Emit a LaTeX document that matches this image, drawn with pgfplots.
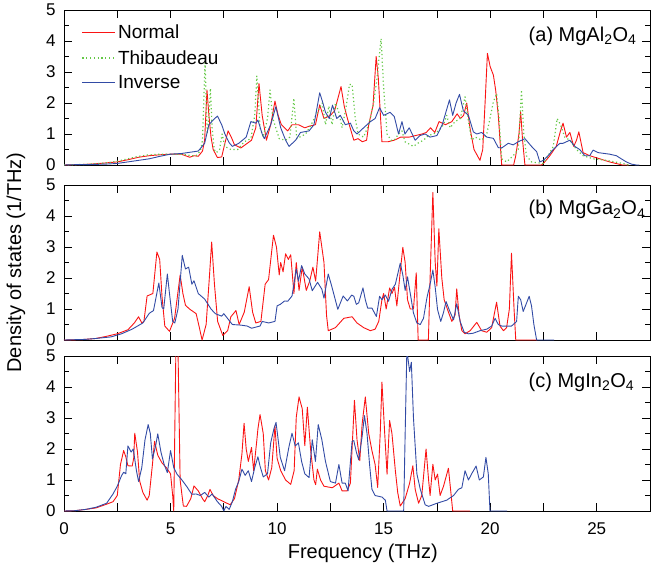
\documentclass[border=0pt]{standalone}
\usepackage{pgfplots}
\pgfplotsset{compat=1.18}
\usepackage{fontspec}
\setmainfont{Liberation Sans}
\definecolor{nred}{RGB}{250,20,20}
\definecolor{iblue}{RGB}{50,75,165}
\definecolor{tgreen}{RGB}{100,200,70}
\pgfplotsset{
 panel/.style={
  scale only axis, width=586pt, height=155pt,
  xmin=0, xmax=27.5, ymin=0, ymax=5,
  xtick={0,5,...,25},
  extra x ticks={2.5,7.5,...,27.5}, extra x tick labels={},
  ytick={0,...,5}, minor ytick={0.5,1.5,...,4.5},
  tick align=inside,
  major tick length=8pt, minor tick length=5pt,
  tick style={black, line width=0.8pt},
  axis line style={line width=0.9pt},
  tick label style={font=\fontsize{17}{19}\selectfont},
  /pgf/number format/assume math mode=true,
  yticklabel style={xshift=-5pt},
  xticklabel style={yshift=-8pt},
 },
 nstyle/.style={color=nred, line width=0.9pt, line join=round},
 tstyle/.style={color=tgreen, line width=1.2pt, dash pattern=on 1.2pt off 2.6pt, line join=round},
 istyle/.style={color=iblue, line width=0.9pt, line join=round},
}
\tikzset{nlab/.style={anchor=west, font=\fontsize{20}{24}\selectfont}}
\begin{document}
\begin{tikzpicture}
\useasboundingbox (-64pt,10pt) rectangle (596pt,-561pt);
% ---------------- (a)
\begin{axis}[panel, at={(0pt,0pt)}, anchor=north west, xticklabels={},
  legend style={draw=none, fill=none, at={(rel axis cs:0.025,0.93)}, anchor=north west,
    font=\fontsize{19}{22}\selectfont, row sep=6pt, cells={anchor=west}},
  legend image code/.code={\draw[#1, line width=1.2pt] (0pt,0pt) -- (33pt,0pt);}]
\addlegendimage{nstyle}
\addlegendentry{Normal}
\addlegendimage{tstyle}
\addlegendentry{Thibaudeau}
\addlegendimage{istyle}
\addlegendentry{Inverse}
\addplot[nstyle, forget plot] coordinates {(0,0) (0.5,0.01) (1,0.02) (1.5,0.04) (2,0.07) (2.5,0.1) (3,0.17) (3.5,0.25) (4,0.3) (4.5,0.33) (5,0.35) (5.5,0.35) (5.9,0.25) (6.1,0.3) (6.3,0.28) (6.5,0.45) (6.6,0.8) (6.71,2.42) (6.8,1.6) (6.9,0.9) (7.0,0.5) (7.2,0.24) (7.4,0.26) (7.55,0.7) (7.7,1.1) (7.85,0.9) (8.0,0.65) (8.3,0.55) (8.6,0.7) (8.8,0.8) (9.0,1.2) (9.15,2.63) (9.3,1.6) (9.5,0.8) (9.7,1.3) (9.9,2.06) (10.05,1.6) (10.2,1.3) (10.5,1.1) (10.7,1.3) (11,1.3) (11.3,1.2) (11.5,1.25) (11.8,1.3) (12.0,1.94) (12.2,1.5) (12.5,1.6) (12.7,1.75) (13.0,2.53) (13.15,1.9) (13.3,1.5) (13.6,0.8) (13.8,0.85) (14.0,0.75) (14.2,0.8) (14.3,1.3) (14.5,1.9) (14.65,3.5) (14.75,2.8) (14.92,0.75) (15.2,0.75) (15.5,0.8) (15.8,0.9) (16.2,0.9) (16.5,0.95) (16.8,1.0) (17.0,1.05) (17.2,1.2) (17.4,1.05) (17.6,1.4) (17.9,1.3) (18.2,1.4) (18.45,1.65) (18.6,1.5) (18.75,1.6) (18.9,2.0) (19.05,1.2) (19.24,0.5) (19.52,0.15) (19.65,0.5) (19.76,2.0) (19.87,3.6) (20.0,3.17) (20.15,2.9) (20.26,2.4) (20.38,1.6) (20.54,0) (21.1,0) (21.2,0.3) (21.35,1.0) (21.43,1.72) (21.52,0.8) (21.63,0) (22.4,0) (22.5,0.05) (22.8,0.3) (23.1,0.6) (23.3,1.1) (23.42,1.35) (23.58,0.9) (23.74,1.05) (23.92,0.6) (24.05,0.8) (24.16,1.07) (24.36,0.4) (24.67,0.3) (25.14,0.2) (25.6,0.1) (26.2,0) (26.5,0)};
\addplot[tstyle, forget plot] coordinates {(0,0) (0.5,0.01) (1,0.02) (1.5,0.04) (2,0.07) (2.5,0.12) (3,0.2) (3.5,0.28) (4,0.33) (4.5,0.35) (5,0.35) (5.5,0.35) (6,0.3) (6.2,0.3) (6.4,0.45) (6.5,0.8) (6.62,3.3) (6.72,1.0) (6.8,1.5) (6.87,2.47) (6.95,1.2) (7.05,0.5) (7.15,0.4) (7.3,0.5) (7.42,1.0) (7.55,0.6) (7.83,0.5) (8.15,0.5) (8.46,0.75) (8.77,0.85) (8.95,1.6) (9.05,2.87) (9.2,1.2) (9.35,0.9) (9.55,1.5) (9.67,2.42) (9.8,1.5) (10.1,0.85) (10.4,0.8) (10.6,0.9) (10.79,2.15) (10.92,0.85) (11.34,1.0) (11.6,1.3) (11.89,1.7) (12.12,2.0) (12.27,1.3) (12.43,1.9) (12.58,1.3) (12.74,2.0) (12.9,1.7) (13.05,1.2) (13.22,1.8) (13.4,2.6) (13.52,2.6) (13.67,1.5) (13.8,1.0) (14.06,0.9) (14.3,1.3) (14.53,2.0) (14.69,2.8) (14.88,4.08) (15.0,2.5) (15.16,1.0) (15.35,0.8) (15.5,0.8) (15.7,1.0) (15.86,1.1) (16.0,0.75) (16.4,0.6) (16.6,0.7) (16.87,0.8) (17.1,0.95) (17.34,1.0) (17.57,1.1) (17.81,1.3) (17.96,1.6) (18.12,1.2) (18.35,1.4) (18.6,1.5) (18.82,2.2) (18.98,1.4) (19.13,0.8) (19.3,0.9) (19.6,0.8) (19.84,1.0) (20.15,2.04) (20.3,2.3) (20.42,1.5) (20.54,0.2) (20.77,0.1) (21.08,0.3) (21.32,0.5) (21.47,2.42) (21.58,1.0) (21.7,0.3) (21.94,0.1) (22.49,0.05) (22.72,0.3) (22.96,0.6) (23.14,1.5) (23.3,1.3) (23.5,0.9) (23.74,0.8) (24.05,0.5) (24.36,0.3) (24.83,0.2) (25.45,0.15) (26.23,0.05) (26.5,0)};
\addplot[istyle, forget plot] coordinates {(0,0) (0.5,0.01) (1,0.01) (1.5,0.02) (2,0.03) (2.5,0.05) (3,0.1) (3.5,0.15) (4,0.2) (4.5,0.28) (5,0.35) (5.5,0.37) (6,0.42) (6.3,0.45) (6.6,0.7) (6.8,1.3) (7.0,1.45) (7.2,1.58) (7.4,1.3) (7.55,1.0) (7.75,0.72) (7.9,0.6) (8.2,0.7) (8.55,0.9) (8.77,1.4) (9.0,1.35) (9.1,1.45) (9.3,1.0) (9.4,0.85) (9.7,1.3) (9.94,1.88) (10.17,1.2) (10.4,0.8) (10.56,0.6) (10.87,0.8) (11.1,1.05) (11.5,1.1) (11.73,1.3) (12.0,2.33) (12.15,2.0) (12.27,1.7) (12.45,1.5) (12.6,1.93) (12.8,1.5) (12.97,1.6) (13.2,1.3) (13.44,1.35) (13.6,1.1) (13.75,1.0) (14.06,1.2) (14.38,1.4) (14.6,1.5) (14.81,1.85) (15.0,1.6) (15.3,1.7) (15.5,1.56) (15.7,1.0) (15.86,1.4) (16.0,1.0) (16.2,1.2) (16.48,0.8) (16.7,0.95) (16.95,1.0) (17.18,0.9) (17.5,0.95) (17.75,1.3) (18.09,2.1) (18.24,1.6) (18.4,2.0) (18.56,2.28) (18.74,1.75) (18.98,1.6) (19.21,1.07) (19.37,1.0) (19.6,1.05) (19.84,0.9) (20.15,0.86) (20.38,0.56) (20.54,0.55) (20.85,0.7) (21.08,0.65) (21.32,0.75) (21.63,0.85) (21.94,0.6) (22.18,0.43) (22.33,0.1) (22.49,0.15) (22.72,0.3) (22.96,0.5) (23.27,0.7) (23.42,0.7) (23.74,0.8) (23.97,0.6) (24.2,0.5) (24.44,0.3) (24.67,0.3) (24.83,0.48) (25.06,0.4) (25.6,0.35) (25.92,0.3) (26.15,0.2) (26.39,0.1) (26.62,0.03) (26.86,0) (27.0,0)};
\node[nlab] at (rel axis cs:0.787,0.83) {(a) MgAl\textsubscript{2}O\textsubscript{4}};
\end{axis}
% ---------------- (b)
\begin{axis}[panel, at={(0pt,-175pt)}, anchor=north west, xticklabels={},
  ylabel={Density of states (1/THz)},
  every axis y label/.style={at={(axis description cs:-0.082,0.5)}, rotate=90, anchor=center, font=\fontsize{20}{24}\selectfont}]
\addplot[nstyle] coordinates {(0,0) (0.8,0.01) (1.5,0.05) (2,0.12) (2.5,0.2) (3,0.33) (3.3,0.55) (3.5,0.75) (3.65,0.55) (3.75,0.6) (3.9,1.42) (4.17,1.5) (4.36,2.84) (4.49,2.6) (4.6,1.4) (4.73,0.45) (4.95,0.28) (5.19,0.7) (5.34,1.5) (5.45,2.1) (5.58,1.5) (5.7,1.12) (5.89,1.0) (6.2,0.85) (6.32,0.5) (6.48,0) (6.67,0.5) (6.82,2.0) (6.93,3.16) (7.06,1.8) (7.21,0.6) (7.45,0.15) (7.68,0.3) (7.83,0.75) (8.07,0.95) (8.22,0.5) (8.46,0.9) (8.69,1.72) (8.85,0.9) (9.0,0.55) (9.24,0.6) (9.44,1.8) (9.6,1.95) (9.83,3.38) (9.97,3.0) (10.1,2.1) (10.17,2.5) (10.28,2.2) (10.4,2.78) (10.53,2.6) (10.64,2.75) (10.79,1.5) (10.9,2.5) (11.03,1.6) (11.18,2.35) (11.37,1.6) (11.53,1.9) (11.68,2.35) (11.81,1.9) (12.0,3.49) (12.2,2.5) (12.32,0.8) (12.4,0.3) (12.74,0.4) (13.13,0.7) (13.52,0.75) (13.75,0.55) (14.06,0.4) (14.38,0.3) (14.6,0.35) (14.77,0.6) (14.92,1.3) (15.0,1.5) (15.12,1.0) (15.28,1.68) (15.39,1.5) (15.51,1.7) (15.62,1.1) (15.78,2.2) (15.9,2.99) (16.01,2.5) (16.12,1.3) (16.25,1.0) (16.4,1.0) (16.53,2.17) (16.62,0) (17.1,0) (17.18,2.0) (17.31,4.76) (17.42,2.5) (17.5,1.74) (17.59,3.59) (17.73,2.0) (17.84,1.3) (18.04,0.9) (18.2,0.6) (18.35,0.8) (18.43,1.65) (18.54,0.8) (18.67,0.3) (18.82,0.2) (19.06,0.3) (19.37,0.57) (19.6,0.3) (19.84,0.25) (20.07,0.4) (20.3,1.22) (20.46,0.45) (20.62,0.3) (20.77,0.4) (20.9,1.0) (21.0,2.8) (21.12,1.0) (21.2,0) (22.2,0)};
\addplot[istyle] coordinates {(0,0) (0.5,0.01) (1,0.02) (1.5,0.05) (2.2,0.1) (2.7,0.2) (3.2,0.35) (3.7,0.55) (4.0,0.86) (4.2,0.95) (4.45,1.84) (4.6,1.05) (4.68,1.0) (4.85,2.13) (4.95,1.5) (5.1,0.6) (5.2,0.55) (5.35,1.0) (5.55,2.73) (5.7,2.29) (5.85,2.35) (6.0,1.8) (6.1,1.91) (6.3,1.5) (6.6,1.32) (6.9,1.0) (7.1,0.85) (7.4,0.77) (7.5,0.85) (7.9,0.5) (8.3,0.48) (8.6,0.45) (8.8,0.38) (9.2,0.45) (9.3,0.6) (9.6,0.55) (9.9,0.6) (10.0,1.1) (10.15,1.15) (10.35,1.26) (10.5,1.25) (10.7,1.42) (10.9,2.29) (11.0,1.9) (11.15,2.4) (11.3,2.13) (11.5,1.97) (11.65,1.59) (11.9,1.86) (12.1,1.64) (12.2,1.35) (12.4,2.13) (12.55,1.77) (12.85,0.99) (13.1,1.42) (13.3,1.26) (13.5,1.45) (13.6,1.41) (13.72,1.15) (13.83,1.2) (14.03,1.68) (14.14,1.3) (14.25,1.03) (14.45,1.03) (14.66,0.76) (14.81,1.41) (14.92,1.3) (15.08,1.45) (15.23,1.25) (15.39,1.63) (15.55,1.8) (15.78,2.48) (15.9,2.1) (16.01,1.6) (16.12,2.04) (16.25,1.5) (16.4,0.87) (16.56,0.55) (16.72,0.5) (16.87,0.7) (17.03,1.36) (17.18,1.8) (17.31,2.26) (17.42,1.7) (17.53,0.98) (17.68,0.6) (17.81,0.89) (17.93,1.24) (18.09,0.95) (18.28,0.65) (18.43,1.17) (18.59,0.6) (18.78,0.25) (18.98,0.2) (19.21,0.22) (19.52,0.3) (19.84,0.35) (20.07,0.45) (20.23,0.7) (20.38,0.5) (20.54,0.45) (20.74,0.45) (21.0,0.45) (21.24,0.6) (21.32,1.41) (21.43,1.3) (21.55,0.92) (21.71,1.2) (21.83,1.41) (21.94,1.1) (22.05,0.5) (22.18,0) (23.0,0)};
\node[nlab] at (rel axis cs:0.787,0.84) {(b) MgGa\textsubscript{2}O\textsubscript{4}};
\end{axis}
% ---------------- (c)
\begin{axis}[panel, at={(0pt,-346pt)}, anchor=north west,
  xlabel={Frequency (THz)},
  every axis x label/.style={at={(axis description cs:0.51,-0.27)}, anchor=center, font=\fontsize{20}{24}\selectfont}]
\addplot[nstyle] coordinates {(0,0) (0.5,0.01) (1,0.05) (1.5,0.1) (2,0.22) (2.3,0.3) (2.5,0.5) (2.65,1.5) (2.8,1.95) (2.9,1.75) (3.0,1.46) (3.2,1.45) (3.27,1.7) (3.32,2.51) (3.45,1.9) (3.55,0.97) (3.7,0.6) (3.9,0.35) (4.0,0.5) (4.15,1.5) (4.25,2.25) (4.4,1.8) (4.6,1.55) (4.8,1.4) (5.0,1.2) (5.1,0.5) (5.15,0) (5.25,5.2) (5.35,5.2) (5.45,1.0) (5.6,0.16) (5.75,0.15) (5.95,0.4) (6.1,0.81) (6.3,0.65) (6.5,0.4) (6.6,0.3) (6.75,0.5) (6.85,0.7) (7.0,0.5) (7.2,0.4) (7.5,0.3) (7.8,0.2) (8.0,0.4) (8.2,1.0) (8.35,1.84) (8.45,2.83) (8.55,2.0) (8.65,1.6) (8.8,2.05) (8.9,1.3) (9.05,2.29) (9.1,2.65) (9.2,3.11) (9.35,2.5) (9.45,1.3) (9.6,1.0) (9.75,1.4) (9.9,2.75) (10.0,1.7) (10.17,1.3) (10.4,1.0) (10.64,0.86) (10.8,1.3) (10.9,3.03) (11.03,3.68) (11.18,3.3) (11.3,2.11) (11.42,3.35) (11.57,2.0) (11.73,1.0) (11.81,0.85) (11.89,1.35) (12.04,1.0) (12.2,0.8) (12.59,0.75) (12.9,0.9) (13.05,0.65) (13.29,0.65) (13.44,0.9) (13.63,3.57) (13.75,2.3) (13.88,1.62) (13.99,2.8) (14.14,3.68) (14.3,2.5) (14.45,1.95) (14.6,1.5) (14.72,0.76) (14.84,2.5) (14.92,4.16) (15.05,2.5) (15.16,1.19) (15.28,2.92) (15.39,2.5) (15.55,1.3) (15.66,0.6) (15.78,0.16) (16.01,0.4) (16.22,0.9) (16.37,1.46) (16.48,0.7) (16.64,0.25) (16.79,0.5) (16.99,2.0) (17.11,1.0) (17.18,0.5) (17.31,1.51) (17.42,1.0) (17.53,1.19) (17.65,0.5) (17.81,0.8) (18.04,1.38) (18.17,0.5) (18.24,0) (19.06,0)};
\addplot[istyle] coordinates {(0,0) (0.5,0.01) (1,0.05) (1.5,0.12) (2,0.25) (2.3,0.55) (2.5,0.8) (2.7,1.14) (2.8,1.25) (2.9,1.2) (3.0,2.1) (3.15,1.9) (3.25,2.0) (3.4,1.3) (3.5,0.95) (3.65,1.4) (3.8,2.29) (3.95,2.79) (4.05,2.5) (4.15,1.68) (4.3,2.1) (4.4,2.49) (4.55,1.9) (4.7,1.5) (4.85,1.24) (5.0,1.95) (5.15,1.4) (5.3,1.19) (5.5,1.03) (5.75,0.8) (6.0,0.54) (6.2,0.55) (6.4,0.5) (6.6,0.6) (6.8,0.45) (6.95,0.55) (7.2,0.3) (7.4,0.15) (7.5,0) (7.6,0.15) (7.75,0.05) (7.9,0.3) (8.05,0.7) (8.2,0.95) (8.35,1.35) (8.5,1.15) (8.65,1.3) (8.8,0.95) (8.95,1.4) (9.1,1.75) (9.2,1.45) (9.35,1.1) (9.55,1.2) (9.7,2.2) (9.85,2.65) (9.95,2.86) (10.05,2.3) (10.15,1.73) (10.35,1.3) (10.55,2.05) (10.7,2.51) (10.85,2.1) (11.0,2.2) (11.15,1.6) (11.3,1.2) (11.5,1.08) (11.65,2.3) (11.8,1.6) (11.93,2.79) (12.1,2.3) (12.27,1.6) (12.5,0.95) (12.74,0.9) (12.9,1.5) (13.05,0.9) (13.2,0.9) (13.33,0.65) (13.52,2.25) (13.6,2.27) (13.72,1.9) (13.83,1.65) (13.99,2.4) (14.1,3.08) (14.22,2.5) (14.34,1.5) (14.45,0.7) (14.6,0.5) (14.92,0.45) (15.08,0.35) (15.16,0) (15.94,0) (16.01,2.5) (16.09,5.2) (16.22,4.5) (16.3,4.8) (16.4,3.0) (16.56,1.2) (16.72,0.7) (16.95,0.2) (17.11,0.15) (17.5,0.25) (17.96,0.35) (18.28,0.5) (18.51,0.7) (18.67,0.75) (18.82,1.3) (18.98,1.0) (19.13,1.2) (19.34,1.45) (19.49,1.0) (19.68,1.1) (19.8,1.73) (19.91,1.2) (19.99,0) (20.8,0)};
\node[nlab] at (rel axis cs:0.787,0.83) {(c) MgIn\textsubscript{2}O\textsubscript{4}};
\end{axis}
\end{tikzpicture}
\end{document}
